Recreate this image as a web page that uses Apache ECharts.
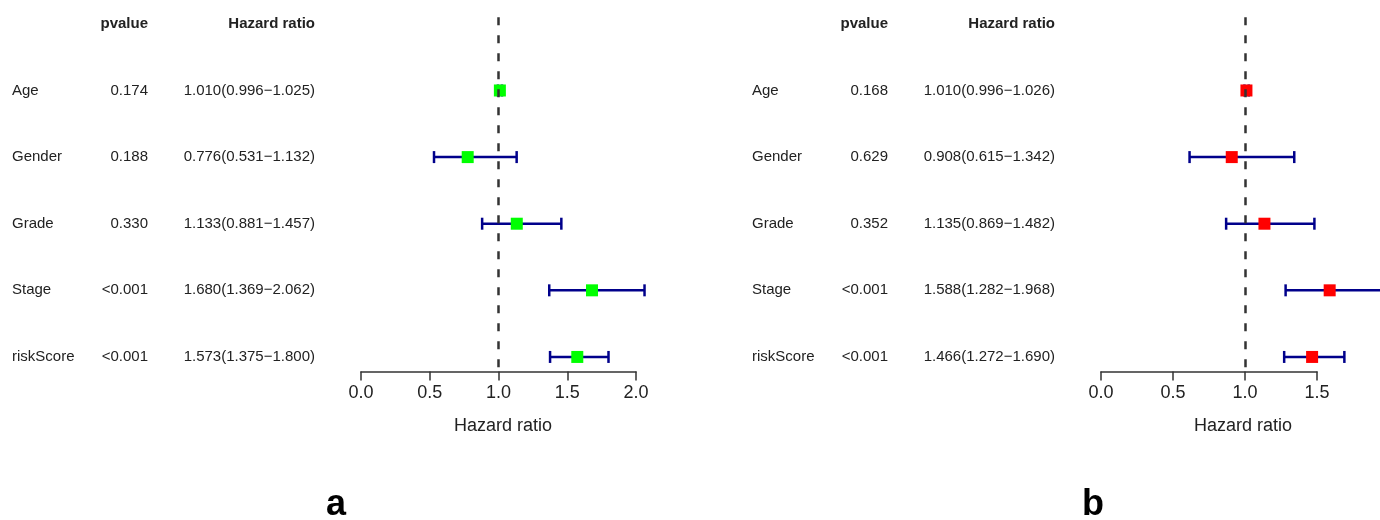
<!DOCTYPE html>
<html>
<head>
<meta charset="utf-8">
<script src="https://cdn.jsdelivr.net/npm/echarts@6/dist/echarts.min.js"></script>
<style>
  html, body { margin: 0; padding: 0; background: #fff; }
  #main { width: 1380px; height: 520px; }
</style>
</head>
<body>
<div id="main"></div>
<script>
// forest plots, panel a (green) and panel b (red)
const rows = ['Age', 'Gender', 'Grade', 'Stage', 'riskScore'];

const pvalA = ['0.174', '0.188', '0.330', '<0.001', '<0.001'];
const hrA   = [1.010, 0.776, 1.133, 1.680, 1.573];
const lowA  = [0.996, 0.531, 0.881, 1.369, 1.375];
const highA = [1.025, 1.132, 1.457, 2.062, 1.800];

const pvalB = ['0.168', '0.629', '0.352', '<0.001', '<0.001'];
const hrB   = [1.010, 0.908, 1.135, 1.588, 1.466];
const lowB  = [0.996, 0.615, 0.869, 1.282, 1.272];
const highB = [1.026, 1.342, 1.482, 1.968, 1.690];

const axisMaxA = 2.0;
const axisMaxB = 1.5;

const FONT = '"Liberation Sans", Arial, sans-serif';

function hrText(h, l, u) {
  return h.toFixed(3) + '(' + l.toFixed(3) + '\u2212' + u.toFixed(3) + ')';
}

// build table rows, header sits one row above Age
function tableRows(pv, hr, lo, hi) {
  const out = [{ idx: -1, name: '', p: 'pvalue', hr: 'Hazard ratio', bold: true }];
  rows.forEach((r, i) => {
    out.push({ idx: i, name: r, p: pv[i], hr: hrText(hr[i], lo[i], hi[i]), bold: false });
  });
  return out;
}

function tableSeries(gi, cols, pv, hr, lo, hi) {
  const tr = tableRows(pv, hr, lo, hi);
  return {
    type: 'custom',
    xAxisIndex: gi, yAxisIndex: gi,
    clip: false, silent: true,
    data: tr.map(r => [0, r.idx]),
    renderItem: function (params, api) {
      const r = tr[params.dataIndex];
      const y = api.coord([0, r.idx])[1];
      const font = (r.bold ? 'bold ' : '') + '15px ' + FONT;
      const mk = (text, x, align) => ({
        type: 'text',
        style: { text: text, x: x, y: y, align: align, verticalAlign: 'middle', font: font, fill: '#222' }
      });
      return {
        type: 'group',
        children: [
          mk(r.name, cols[0], 'left'),
          mk(r.p, cols[1], 'right'),
          mk(r.hr, cols[2], 'right')
        ]
      };
    }
  };
}

function errSeries(gi, lo, hi) {
  return {
    type: 'custom',
    xAxisIndex: gi, yAxisIndex: gi,
    clip: false, silent: true, z: 2,
    data: rows.map((r, i) => [lo[i], hi[i], i]),
    renderItem: function (params, api) {
      const a = api.coord([api.value(0), api.value(2)]);
      const b = api.coord([api.value(1), api.value(2)]);
      const st = { stroke: '#00008B', lineWidth: 2.5 };
      return {
        type: 'group',
        children: [
          { type: 'line', shape: { x1: a[0], y1: a[1], x2: b[0], y2: b[1] }, style: st },
          { type: 'line', shape: { x1: a[0], y1: a[1] - 6, x2: a[0], y2: a[1] + 6 }, style: st },
          { type: 'line', shape: { x1: b[0], y1: b[1] - 6, x2: b[0], y2: b[1] + 6 }, style: st }
        ]
      };
    },
    markLine: {
      silent: true,
      symbol: 'none',
      label: { show: false },
      lineStyle: { type: [8, 10], width: 2.5, color: '#333' },
      data: [{ xAxis: 1 }]
    }
  };
}

function pointSeries(gi, hr, color) {
  return {
    type: 'scatter',
    xAxisIndex: gi, yAxisIndex: gi,
    clip: false, silent: true, z: 3,
    symbol: 'rect',
    symbolSize: 12,
    itemStyle: { color: color, opacity: 1 },
    data: hr.map((v, i) => [v, i])
  };
}

function xAxis(gi, max) {
  return {
    type: 'value',
    gridIndex: gi,
    position: 'bottom',
    min: 0, max: max, interval: 0.5,
    splitLine: { show: false },
    axisLine: { show: true, onZero: false, lineStyle: { color: '#333', width: 1.5 } },
    axisTick: { show: true, length: 9, lineStyle: { color: '#333', width: 1.5 } },
    axisLabel: {
      fontSize: 18, fontFamily: FONT, color: '#222', margin: 12,
      formatter: v => v.toFixed(1)
    }
  };
}

function yAxis(gi) {
  return {
    type: 'value',
    gridIndex: gi,
    inverse: true,
    min: -1.1, max: 4.22,
    show: false
  };
}

const chart = echarts.init(document.getElementById('main'));

chart.setOption({
  backgroundColor: '#fff',
  animation: false,
  grid: [
    { left: 361, right: 744, top: 17.2, bottom: 148.4 },
    { left: 1101, right: 63, top: 17.2, bottom: 148.4 }
  ],
  xAxis: [xAxis(0, axisMaxA), xAxis(1, axisMaxB)],
  yAxis: [yAxis(0), yAxis(1)],
  series: [
    tableSeries(0, [12, 148, 315], pvalA, hrA, lowA, highA),
    errSeries(0, lowA, highA),
    pointSeries(0, hrA, '#00FF00'),
    tableSeries(1, [752, 888, 1055], pvalB, hrB, lowB, highB),
    errSeries(1, lowB, highB),
    pointSeries(1, hrB, '#FF0000')
  ],
  graphic: [
    { type: 'text', x: 503, y: 426, style: { text: 'Hazard ratio', align: 'center', verticalAlign: 'middle', font: '18px ' + FONT, fill: '#222' } },
    { type: 'text', x: 1243, y: 426, style: { text: 'Hazard ratio', align: 'center', verticalAlign: 'middle', font: '18px ' + FONT, fill: '#222' } },
    { type: 'text', x: 336, y: 505, style: { text: 'a', align: 'center', verticalAlign: 'middle', font: 'bold 36px ' + FONT, fill: '#000' } },
    { type: 'text', x: 1093, y: 505, style: { text: 'b', align: 'center', verticalAlign: 'middle', font: 'bold 36px ' + FONT, fill: '#000' } }
  ]
});
</script>
</body>
</html>
